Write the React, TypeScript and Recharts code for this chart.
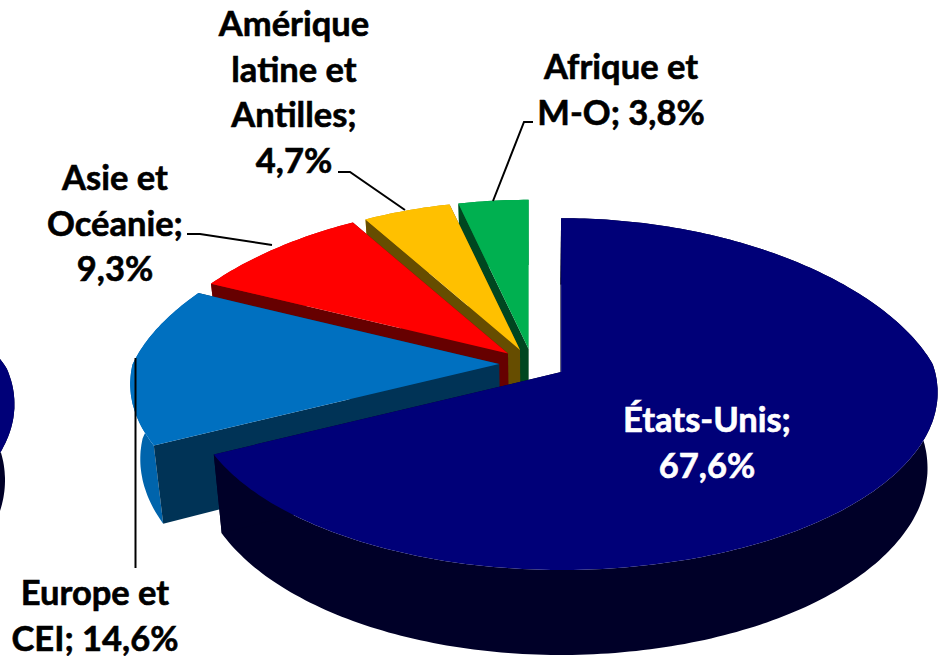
import { Pie, PieChart } from 'recharts';

// drawn far to near, so the data runs counter-clockwise from the top
const categories = ['Afrique et M-O', 'Amérique latine et Antilles', 'Asie et Océanie', 'Europe et CEI', 'États-Unis'];
const shares = [3.8, 4.7, 9.3, 14.6, 67.6];
const labelLines = [
  ['Afrique et', 'M-O; {v}'],
  ['Amérique', 'latine et', 'Antilles;', '{v}'],
  ['Asie et', 'Océanie;', '{v}'],
  ['Europe et', 'CEI; {v}'],
  ['États-Unis;', '{v}'],
];

const topColors = ['#00B050', '#FFC000', '#FF0000', '#0070C0', '#000078'];
const cutColors = ['#004620', '#664D00', '#660000', '#003356', '#000028'];
const wallColors = ['#008A40', '#C99700', '#C00000', '#0064AC', '#000028'];

// label centre x, first baseline y, and leader line
const labelPos = [
  { x: 621, y: 79, line: '533,122 524,122 493,201' },
  { x: 294, y: 36, line: '338,172 350,172 405,210' },
  { x: 115, y: 190, line: '187,234 200,234 272,245' },
  { x: 95, y: 605, line: '135.5,358 135.5,568' },
  { x: 707, y: 432, line: '' },
];

const data = categories.map((name, i) => ({ name, value: shares[i] }));
// edge of the neighbouring pie that is cut off by the left border
const neighbour = [{ name: categories[4], value: 100 }];

const EXPLODE = 0.09;
const FLAT = 0.46;
const PERSP = 0.124;
const DEPTH = 74;
const SHRINK = 0.975;

// ox, oy = explosion offset, px, py = point on the unit circle
function project(cx: number, cy: number, r: number, ox: number, oy: number, px: number, py: number, bottom: boolean) {
  const v = py + oy;
  const wy = 1 + PERSP * v;
  const wx = v >= 0 ? 1 + 0.22 * v : 1 + 0.115 * v;
  const side = px < 0 ? 0.985 : 1;
  let x = r * (ox + (side * px) / wx);
  let y = cy - (r * FLAT * v) / wy;
  if (bottom) {
    x *= SHRINK;
    y += DEPTH / wy;
  }
  return `${(cx + x).toFixed(1)},${y.toFixed(1)}`;
}

function PieSlice3D(props: any) {
  const { cx, cy, outerRadius: r, startAngle, endAngle, payload } = props;
  const idx = categories.indexOf(payload.name);
  const rad = Math.PI / 180;
  const mid = ((startAngle + endAngle) / 2) * rad;
  const ox = EXPLODE * Math.cos(mid);
  const oy = EXPLODE * Math.sin(mid);

  const angles: number[] = [];
  for (let a = startAngle; a < endAngle; a += 1) angles.push(a);
  angles.push(endAngle);

  const rim = (bottom: boolean) =>
    angles.map((a) => project(cx, cy, r, ox, oy, Math.cos(a * rad), Math.sin(a * rad), bottom));
  const apex = (bottom: boolean) => project(cx, cy, r, ox, oy, 0, 0, bottom);

  const rimTop = rim(false);
  const rimBottom = rim(true);
  const last = rimTop.length - 1;

  return (
    <g>
      <polygon points={[...rimTop, ...[...rimBottom].reverse()].join(' ')} fill={wallColors[idx]} />
      <polygon points={[apex(false), rimTop[0], rimBottom[0], apex(true)].join(' ')} fill={cutColors[idx]} />
      <polygon points={[apex(false), rimTop[last], rimBottom[last], apex(true)].join(' ')} fill={cutColors[idx]} />
      <polygon points={[apex(false), ...rimTop].join(' ')} fill={topColors[idx]} />
    </g>
  );
}

function SliceLabel(props: any) {
  const idx = categories.indexOf(props.name);
  const pos = labelPos[idx];
  const value = shares[idx].toFixed(1).replace('.', ',') + '%';
  const color = idx === 4 ? '#fff' : '#000';
  return (
    <g>
      {pos.line && <polyline points={pos.line} fill="none" stroke="#000" strokeWidth={2} />}
      <text
        textAnchor="middle"
        fontFamily="Lato, sans-serif"
        fontWeight={700}
        fontSize={34.5}
        fill={color}
        stroke={color}
        strokeWidth={0.6}
      >
        {labelLines[idx].map((line, i) => (
          <tspan key={i} x={pos.x} y={pos.y + i * 45.5}>
            {line.replace('{v}', value)}
          </tspan>
        ))}
      </text>
    </g>
  );
}

export default function App() {
  return (
    <div style={{ position: 'absolute', left: 0, top: 0, width: 939, height: 656, overflow: 'hidden', background: '#fff' }}>
      <PieChart width={939} height={656} margin={{ top: 0, right: 0, bottom: 0, left: 0 }}>
        <Pie
          data={neighbour}
          dataKey="value"
          nameKey="name"
          cx={-364}
          cy={368}
          outerRadius={372}
          startAngle={90}
          endAngle={450}
          stroke="none"
          shape={PieSlice3D}
          isAnimationActive={false}
        />
        <Pie
          data={data}
          dataKey="value"
          nameKey="name"
          cx={532.6}
          cy={364}
          outerRadius={372}
          startAngle={90}
          endAngle={450}
          stroke="none"
          shape={PieSlice3D}
          label={SliceLabel}
          labelLine={false}
          isAnimationActive={false}
        />
      </PieChart>
    </div>
  );
}
